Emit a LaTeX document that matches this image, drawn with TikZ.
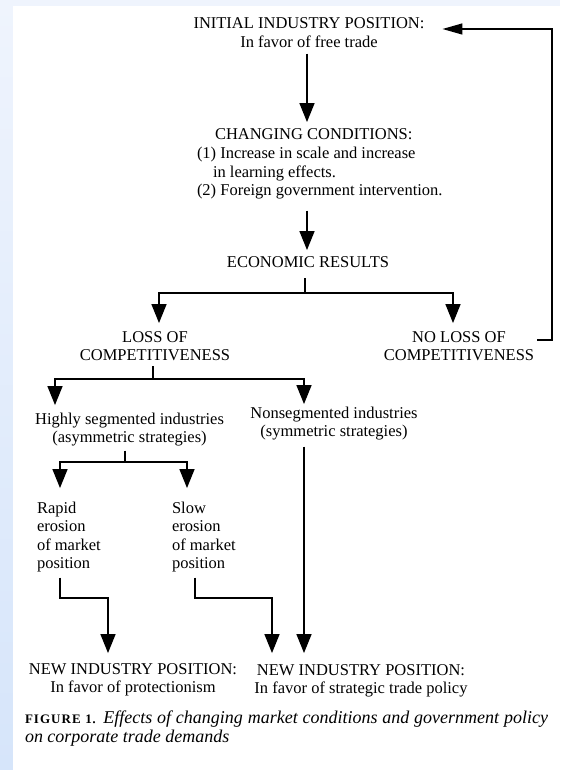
\documentclass[tikz,border=0pt]{standalone}
\usepackage{fontspec}
\setmainfont{Liberation Serif}
\usetikzlibrary{arrows.meta}
\definecolor{bgtop}{RGB}{239,244,253}
\definecolor{bgbot}{RGB}{214,229,250}
\begin{document}
\begin{tikzpicture}[x=1pt,y=-1pt,
  txt/.style={inner sep=0pt, outer sep=0pt, align=center, font=\fontsize{16.5}{18.5}\selectfont},
  txtl/.style={txt, align=left},
  ln/.style={line width=1.5pt},
  arr/.style={ln, -{Triangle[length=19pt,width=15pt]}},
  fbarr/.style={ln, -{Triangle[length=20pt,width=11pt]}},
]
% background
\fill[bgtop] (0,0) rectangle (560,770);
\shade[top color=bgtop, bottom color=bgbot] (0,0) rectangle (13,770);
\fill[white] (13,6) rectangle (560,770);
\useasboundingbox (0,0) rectangle (560,770);

% nodes
\node[txt, anchor=north] (init) at (309,{29-12.95}) {\strut INITIAL INDUSTRY POSITION:\\In favor of free trade\strut};
\node[txtl, anchor=north west] (cond) at (197,{140-12.95}) {\hspace*{18pt}\strut CHANGING CONDITIONS:\\(1) Increase in scale and increase\\\hspace*{16pt}in learning effects.\\(2) Foreign government intervention.\strut};
\node[txt, anchor=north] (econ) at (308,{267-12.95}) {\strut ECONOMIC RESULTS\strut};
\node[txt, anchor=north] (loss) at (155,{342-12.95}) {\strut LOSS OF\\COMPETITIVENESS\strut};
\node[txt, anchor=north] (noloss) at (459,{342-12.95}) {\strut NO LOSS OF\\COMPETITIVENESS\strut};
\node[txt, anchor=north] (high) at (129.5,{424-12.95}) {\strut Highly segmented industries\\(asymmetric strategies)\strut};
\node[txt, anchor=north] (nonseg) at (334,{418-12.95}) {\strut Nonsegmented industries\\(symmetric strategies)\strut};
\node[txtl, anchor=north west] (rapid) at (37,{513-12.95}) {\strut Rapid\\erosion\\of market\\position\strut};
\node[txtl, anchor=north west] (slow) at (172,{513-12.95}) {\strut Slow\\erosion\\of market\\position\strut};
\node[txt, anchor=north] (newprot) at (133,{674-12.95}) {\strut NEW INDUSTRY POSITION:\\In favor of protectionism\strut};
\node[txt, anchor=north] (newstrat) at (361,{675-12.95}) {\strut NEW INDUSTRY POSITION:\\In favor of strategic trade policy\strut};
\node[inner sep=0pt, outer sep=0pt, anchor=north west, align=left, font=\fontsize{18}{17.5}\selectfont\itshape] (caption) at (25,{723-12.25})
  {\makebox[523pt][s]{\strut{\upshape\bfseries\fontsize{13}{17.5}\selectfont\addfontfeatures{LetterSpace=8}FIGURE 1}{\upshape.} Effects of changing market conditions and government policy}\\on corporate trade demands};

% coordinates
\coordinate (cx) at (307,0);
\coordinate (j1) at (305,293);
\coordinate (j2) at (153,379);
\coordinate (j3) at (125,462);
\coordinate (r1) at (60,598);
\coordinate (s1) at (195,598);
\coordinate (fb) at (552,340);
\coordinate (fb2) at (552,29);

% connectors
\draw[arr, shorten <=0.5pt, shorten >=5pt] (init.south -| cx) -- (cond.north -| cx);
\draw[arr, shorten <=9.5pt, shorten >=4pt] (cond.south -| cx) -- (econ.north -| cx);

\draw[ln, shorten <=5.5pt] (econ.south -| j1) -- (j1);
\draw[arr, shorten >=6pt] (j1) -| ([xshift=4pt]loss.north);
\draw[arr, shorten >=6pt] (j1) -| ([xshift=-6pt]noloss.north);

\draw[ln] (loss.south -| j2) -- (j2);
\draw[arr, shorten >=6pt] (j2) -| ([xshift=-74.5pt]high.north);
\draw[arr, shorten >=1pt] (j2) -| ([xshift=-30pt]nonseg.north);

\draw[ln, shorten <=2.5pt] (high.south -| j3) -- (j3);
\draw[arr, shorten >=12pt] (j3) -| ([xshift=23pt]rapid.north west);
\draw[arr, shorten >=12pt] (j3) -| ([xshift=15pt]slow.north west);

\draw[arr, shorten <=3.5pt, shorten >=8pt] (rapid.south west -| r1) -- (r1) -| ([xshift=-25pt]newprot.north);
\draw[arr, shorten <=3.5pt, shorten >=9pt] (slow.south west -| s1) -- (s1) -| ([xshift=-89pt]newstrat.north);
\draw[arr, shorten <=4.5pt, shorten >=9pt] ([xshift=-30pt]nonseg.south) -- ([xshift=-57pt]newstrat.north);

\draw[fbarr, shorten <=3pt, shorten >=18pt] (noloss.east |- fb) -- (fb) -- (fb2) -- (init.east |- fb2);
\end{tikzpicture}
\end{document}
